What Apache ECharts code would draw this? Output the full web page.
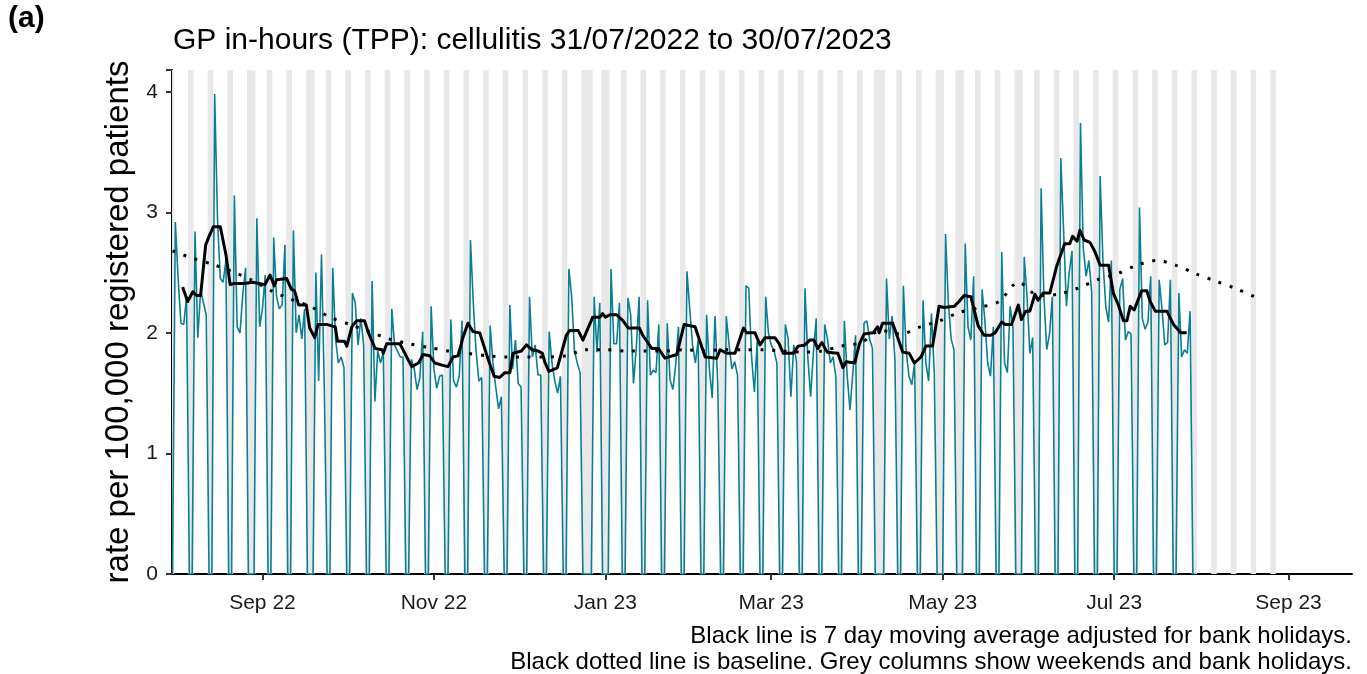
<!DOCTYPE html>
<html>
<head>
<meta charset="utf-8">
<script src="https://cdn.jsdelivr.net/npm/echarts@6/dist/echarts.min.js"></script>
<style>
html,body{margin:0;padding:0;background:#fff;}
#chart{width:1367px;height:674px;}
</style>
</head>
<body>
<div id="chart"></div>
<script>
// ---------------- DATA ----------------
const startDate = '2022-07-31';           // day 0 (Sunday)
// daily rate per 100,000 (Sun 31/07/2022, then weeks Mon..Sun)
const rateFirstDay = [0];
const rateWeeks = [
  [2.92,2.45,2.08,2.07,2.30,0,0],
  [2.84,1.96,2.35,2.25,2.15,0,0],
  [3.98,2.95,2.45,2.42,2.60,0,0],
  [3.14,2.05,2.00,2.32,2.54,0,0],
  [0,2.95,2.05,2.20,2.48,0,0],
  [2.79,2.30,2.20,2.23,2.73,0,0],
  [2.85,2.00,2.15,1.95,2.20,0,0],
  [0,2.50,1.60,2.65,1.55,0,0],
  [2.54,1.95,1.75,1.80,1.71,0,0],
  [2.33,2.25,1.90,2.12,1.90,0,0],
  [2.43,1.43,1.85,1.75,1.84,0,0],
  [2.20,1.90,1.85,1.80,1.80,0,0],
  [1.78,1.70,1.53,1.63,2.01,0,0],
  [2.22,1.70,1.54,1.64,1.65,0,0],
  [2.11,1.60,1.55,1.64,2.10,0,0],
  [2.77,2.25,1.85,1.60,1.63,0,0],
  [2.06,1.75,1.55,1.37,1.47,0,0],
  [2.23,1.70,1.94,1.58,1.55,0,0],
  [2.30,1.80,1.90,1.65,1.65,0,0],
  [2.01,1.75,1.60,1.50,1.64,0,0],
  [2.53,2.30,1.85,1.75,1.67,0,0],
  [0,0,2.30,1.84,2.25,0,0],
  [0,2.53,1.91,1.91,2.25,0,0],
  [2.29,2.15,1.58,1.88,2.30,0,0],
  [2.27,1.65,1.69,1.67,2.07,0,0],
  [2.08,1.61,1.53,1.73,2.05,0,0],
  [2.51,2.20,1.90,1.75,1.94,0,0],
  [2.15,1.70,1.46,2.14,1.55,0,0],
  [2.14,1.90,1.70,1.76,1.65,0,0],
  [2.39,2.37,1.80,1.51,1.93,0,0],
  [2.30,2.00,1.90,1.85,1.75,0,0],
  [2.07,1.95,1.47,1.90,1.76,0,0],
  [2.37,1.80,1.47,1.84,2.12,0,0],
  [2.07,1.95,1.75,1.80,1.63,0,0],
  [2.10,1.65,1.36,1.66,1.98,0,0],
  [2.08,2.10,1.95,1.87,0,0,0],
  [0,2.45,1.95,2.14,1.78,0,0],
  [2.39,1.85,1.64,1.57,1.75,0,0],
  [2.27,1.75,1.60,2.16,1.67,0,0],
  [0,2.82,2.25,1.95,1.86,0,0],
  [0,2.74,2.05,1.94,2.47,0,0],
  [2.36,2.10,1.75,1.64,2.05,0,0],
  [2.67,1.75,1.67,2.22,2.04,0,0],
  [0,2.63,2.30,1.83,1.96,0,0],
  [3.20,2.30,1.86,1.99,2.30,0,0],
  [3.45,2.85,2.22,2.50,2.68,0,0],
  [3.74,2.70,2.47,2.60,2.34,0,0],
  [3.30,2.60,2.22,2.09,2.60,0,0],
  [2.36,2.45,1.94,2.01,1.99,0,0],
  [3.04,2.12,2.03,2.09,2.47,0,0],
  [2.44,2.20,1.90,1.92,2.44,0,0],
  [2.33,1.80,1.86,1.83,2.18,0,0]
];
// 7 day moving average (day offset from startDate, value)
const maDay = [3.6,5.4,7.2,8.5,10,11.8,13,14.5,17,19,20.5,21.9,25.5,28.5,32.9,34.7,36.2,37,40.6,42.3,43.4,44.9,47.6,48.8,50.6,51.8,54.8,57.9,58.7,61.2,62,63.8,65.5,68.3,69.7,72.1,74.5,
  75,76.2,80.9,85.1,87.5,89.2,91.5,93.3,96.2,98,99.8,101.6,103.3,105.1,106.9,109.3,112.3,114.4,116.4,118.2,120,121.1,124.1,125.9,127.9,130,131.6,132.4,133.9,136.9,140.1,141.3,144.3,146,
  146.4,149.5,152.1,153,154,155.6,158,160.3,162.1,166.1,167.3,170.5,172.9,175.2,179.4,182,185.9,189.5,193.6,194.8,197.2,200.1,203.1,204.3,207.2,209,210.8,214.3,215.8,217.3,219.7,
  220.8,222.6,225,226.7,228.2,229.6,231,232.9,236.7,238.5,239.7,242.7,244.4,246,249.2,250.8,251.4,252.6,256.2,259.8,262.1,263.9,266.3,268,270.4,272.7,274.5,278.1,279.8,281.6,284,286.6,288.7,291.1,
  292.6,295,296.2,298.5,300.9,302,303.5,305,306.8,307.9,309.7,312.1,314.5,317.4,319.2,320.2,321.8,322.8,324.3,326.4,328.2,330,333,334.7,336.5,338.3,339.5,340.7,342.1,344.8,346.6,347.8,349.6,353.7,356.1,358.7,360.8];
const maRate = [2.38,2.26,2.34,2.31,2.31,2.73,2.80,2.88,2.88,2.65,2.40,2.41,2.41,2.42,2.40,2.48,2.39,2.44,2.45,2.36,2.35,2.23,2.23,2.04,1.96,2.07,2.07,2.05,1.93,1.93,1.89,2.05,2.10,2.10,2.00,1.87,1.86,
  1.83,1.91,1.91,1.72,1.75,1.82,1.81,1.75,1.73,1.72,1.80,1.81,1.96,2.08,2.01,2.00,1.78,1.64,1.63,1.67,1.67,1.83,1.85,1.90,1.86,1.85,1.83,1.76,1.68,1.71,1.98,2.02,2.02,1.94,
  1.94,2.13,2.13,2.16,2.13,2.15,2.15,2.10,2.04,2.04,1.98,1.87,1.87,1.79,1.82,2.07,2.05,1.80,1.79,1.86,1.83,1.83,2.04,2.00,2.00,1.90,1.96,1.96,1.91,1.83,1.83,
  1.83,1.89,1.90,1.94,1.94,1.87,1.92,1.84,1.83,1.71,1.76,1.75,1.91,1.99,2.00,2.05,2.00,2.08,2.08,1.84,1.83,1.75,1.80,1.89,1.89,2.22,2.21,2.22,2.26,2.31,2.30,2.06,1.98,1.98,
  2.00,2.09,2.07,2.07,2.23,2.11,2.18,2.18,2.32,2.27,2.33,2.33,2.55,2.74,2.74,2.80,2.76,2.85,2.77,2.75,2.67,2.56,2.56,2.33,2.23,2.10,2.10,2.22,2.19,2.35,2.35,2.26,2.18,2.18,2.07,2.00,2.00];
// baseline (day offset, value)
const baseDay = [0,7,14,21,28,35,42,49,56,63,70,77,84,91,98,105,112,119,126,133,140,147,154,161,168,175,182,189,196,203,210,217,224,231,238,245,252,259,266,273,280,287,294,301,308,315,322,329,336,343,350,357,364,371,378,385,387];
const baseRate = [2.68,2.62,2.57,2.51,2.44,2.35,2.28,2.22,2.13,2.07,2.01,1.95,1.91,1.88,1.85,1.83,1.81,1.80,1.80,1.80,1.81,1.86,1.86,1.85,1.85,1.85,1.86,1.85,1.86,1.86,1.86,1.85,1.84,1.85,1.89,1.92,2.02,1.99,2.05,2.10,2.17,2.21,2.26,2.42,2.31,2.32,2.37,2.44,2.49,2.56,2.60,2.56,2.49,2.43,2.37,2.30,2.29];
// grey columns: weekends up to this day offset, plus bank holidays
const greyLastDay = 392;
const bankHolidays = ['2022-08-29','2022-09-19','2022-12-26','2022-12-27','2023-01-02','2023-04-07','2023-04-10','2023-05-01','2023-05-08','2023-05-29'];
// axis ticks
const tickDates = ['2022-09-01','2022-11-01','2023-01-01','2023-03-01','2023-05-01','2023-07-01','2023-09-01'];
const tickLabels = ['Sep 22','Nov 22','Jan 23','Mar 23','May 23','Jul 23','Sep 23'];
const yTicks = [0,1,2,3,4];

// ---------------- BUILD ----------------
const DAY = 86400000;
const t0 = Date.parse(startDate + 'T00:00:00Z');
const rate = rateFirstDay.concat(...rateWeeks);
const rateData = rate.map((v, i) => [t0 + i * DAY, v]);
const maData = maDay.map((d, i) => [t0 + d * DAY, maRate[i]]);
const baseData = baseDay.map((d, i) => [t0 + d * DAY, baseRate[i]]);
const bhSet = new Set(bankHolidays.map(s => Math.round((Date.parse(s + 'T00:00:00Z') - t0) / DAY)));
const greyDays = [];
for (let d = 0; d <= greyLastDay; d++) {
  const dow = new Date(t0 + d * DAY).getUTCDay();
  if (dow === 0 || dow === 6 || bhSet.has(d)) greyDays.push(d);
}
const greyAreas = [];
let s = null, p = null;
greyDays.forEach(d => {
  if (s === null) { s = d; p = d; }
  else if (d === p + 1) { p = d; }
  else { greyAreas.push([s, p]); s = d; p = d; }
});
if (s !== null) greyAreas.push([s, p]);
const markAreaData = greyAreas.map(([a, b]) => [{xAxis: t0 + (a - 0.5) * DAY}, {xAxis: t0 + (b + 0.5) * DAY}]);
const tickTs = tickDates.map(sd => Date.parse(sd + 'T00:00:00Z'));

const FONT = '"Liberation Sans", Arial, sans-serif';
const chart = echarts.init(document.getElementById('chart'), null, {renderer: 'canvas'});
chart.setOption({
  animation: false,
  backgroundColor: '#ffffff',
  textStyle: {fontFamily: FONT},
  title: {
    text: 'GP in-hours (TPP): cellulitis 31/07/2022 to 30/07/2023',
    left: 168, top: 21,
    textStyle: {fontFamily: FONT, fontSize: 30, fontWeight: 'normal', color: '#000'}
  },
  grid: {left: 172, right: 15, top: 70, bottom: 100, containLabel: false},
  xAxis: {
    type: 'value',
    min: t0 - 0.18 * DAY,
    max: t0 + 419.6 * DAY,
    axisLine: {show: true, lineStyle: {color: '#000', width: 2}},
    axisTick: {show: true, length: 6, lineStyle: {color: '#333', width: 2}, customValues: tickTs},
    axisLabel: {
      customValues: tickTs,
      fontFamily: FONT, fontSize: 21, color: '#1a1a1a', margin: 19,
      formatter: function (v) {
        let best = 0, bd = Infinity;
        tickTs.forEach((t, i) => { const dd = Math.abs(t - v); if (dd < bd) { bd = dd; best = i; } });
        return tickLabels[best];
      }
    },
    splitLine: {show: false}
  },
  yAxis: {
    type: 'value',
    min: 0, max: 4.18, interval: 1,
    name: 'rate per 100,000 registered patients',
    nameLocation: 'middle',
    nameGap: 25,
    nameRotate: 90,
    nameTextStyle: {fontFamily: FONT, fontSize: 33, color: '#000'},
    axisLine: {show: true, lineStyle: {color: '#000', width: 2}},
    axisTick: {show: true, length: 6, lineStyle: {color: '#333', width: 2}},
    axisLabel: {fontFamily: FONT, fontSize: 21, color: '#1a1a1a', margin: 14,
      formatter: v => (yTicks.indexOf(v) >= 0 ? String(v) : '')},
    splitLine: {show: false}
  },
  series: [
    {
      type: 'line', name: 'grey', data: [], z: 1, silent: true,
      markArea: {silent: true, itemStyle: {color: '#E8E8E8'}, data: markAreaData}
    },
    {
      type: 'line', name: 'rate', data: rateData, z: 3, showSymbol: false, symbol: 'none',
      lineStyle: {color: '#0A7F94', width: 1.6}, clip: true
    },
    {
      type: 'line', name: 'baseline', data: baseData, z: 4, showSymbol: false, symbol: 'none', smooth: 0.3,
      lineStyle: {color: '#000', width: 3, type: [3, 8.7], cap: 'butt'}
    },
    {
      type: 'line', name: 'ma', data: maData, z: 5, showSymbol: false, symbol: 'none',
      lineStyle: {color: '#000', width: 3, join: 'round'}
    }
  ],
  graphic: [
    {type: 'text', left: 8, top: 4, style: {text: '(a)', font: 'bold 30px ' + FONT, fill: '#000'}},
    {type: 'text', right: 15, top: 624, style: {text: 'Black line is 7 day moving average adjusted for bank holidays.', font: '24px ' + FONT, fill: '#000', align: 'right'}},
    {type: 'text', right: 15, top: 650, style: {text: 'Black dotted line is baseline. Grey columns show weekends and bank holidays.', font: '24px ' + FONT, fill: '#000', align: 'right'}}
  ]
});
</script>
</body>
</html>
